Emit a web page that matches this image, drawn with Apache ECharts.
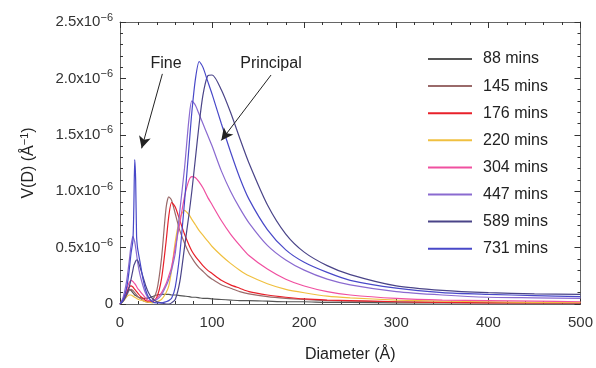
<!DOCTYPE html>
<html>
<head>
<meta charset="utf-8">
<script src="https://cdn.jsdelivr.net/npm/echarts@6/dist/echarts.min.js"></script>
<style>html,body{margin:0;padding:0;background:#fff;}#c{width:596px;height:368px;}</style>
</head>
<body>
<div id="c"></div>
<script>
// Diameter grid (Å) shared by all series
var diameters = [0,3,6,8,10,12,14,15,16,17,18,19,20,22,25,28,31,35,40,45,50,53,56,60,65,70,75,78,82,86,90,95,100,110,120,130,140,160,180,200,225,250,300,350,400,450,500];
// V(D) values in units of 1e-6 Å^-1
var v88  = [0,0.03,0.08,0.11,0.13,0.12,0.10,0.09,0.08,0.075,0.07,0.065,0.06,0.055,0.05,0.05,0.055,0.065,0.08,0.085,0.085,0.085,0.08,0.08,0.075,0.07,0.065,0.06,0.06,0.055,0.05,0.05,0.045,0.04,0.035,0.03,0.03,0.025,0.02,0.02,0.015,0.015,0.01,0.01,0.01,0.01,0.01];
var v145 = [0,0.02,0.06,0.09,0.12,0.13,0.12,0.11,0.10,0.09,0.08,0.07,0.06,0.05,0.03,0.02,0.015,0.03,0.12,0.40,0.85,0.95,0.92,0.80,0.65,0.54,0.45,0.41,0.36,0.32,0.29,0.25,0.22,0.17,0.14,0.11,0.09,0.065,0.05,0.04,0.03,0.025,0.02,0.015,0.015,0.01,0.01];
var v176 = [0,0.03,0.08,0.12,0.15,0.16,0.15,0.14,0.13,0.12,0.11,0.10,0.09,0.07,0.05,0.03,0.02,0.02,0.06,0.22,0.55,0.78,0.90,0.86,0.74,0.62,0.52,0.47,0.42,0.38,0.34,0.30,0.27,0.21,0.17,0.14,0.11,0.08,0.06,0.045,0.035,0.03,0.02,0.015,0.01,0.01,0.01];
var v220 = [0,0.02,0.05,0.07,0.08,0.08,0.07,0.065,0.06,0.055,0.05,0.045,0.04,0.035,0.03,0.02,0.015,0.01,0.02,0.04,0.10,0.16,0.30,0.55,0.76,0.83,0.79,0.75,0.70,0.65,0.61,0.56,0.51,0.43,0.36,0.30,0.25,0.18,0.13,0.10,0.07,0.055,0.035,0.025,0.02,0.015,0.015];
var v304 = [0,0.04,0.10,0.15,0.19,0.21,0.20,0.19,0.18,0.17,0.155,0.14,0.13,0.11,0.08,0.05,0.03,0.03,0.05,0.10,0.18,0.25,0.33,0.50,0.72,0.95,1.10,1.13,1.12,1.08,1.03,0.95,0.88,0.74,0.62,0.52,0.43,0.31,0.22,0.16,0.11,0.08,0.05,0.035,0.03,0.025,0.02];
var v447 = [0,0.05,0.15,0.25,0.38,0.52,0.60,0.58,0.55,0.50,0.44,0.38,0.33,0.25,0.16,0.09,0.05,0.03,0.04,0.08,0.16,0.22,0.30,0.45,0.83,1.20,1.65,1.80,1.76,1.68,1.60,1.50,1.40,1.18,1.00,0.85,0.72,0.52,0.39,0.30,0.22,0.17,0.11,0.08,0.06,0.055,0.05];
var v589 = [0,0.02,0.06,0.10,0.15,0.22,0.30,0.34,0.36,0.38,0.39,0.39,0.37,0.32,0.24,0.16,0.10,0.05,0.02,0.01,0,0,0.01,0.04,0.20,0.50,0.80,1.00,1.30,1.60,1.85,2.02,2.03,1.90,1.70,1.47,1.25,0.88,0.62,0.46,0.34,0.26,0.16,0.12,0.10,0.09,0.085];
var v731 = [0,0.03,0.10,0.18,0.30,0.45,0.56,0.85,1.28,1.10,0.60,0.50,0.45,0.36,0.22,0.12,0.06,0.02,0.01,0.01,0.02,0.03,0.05,0.15,0.45,0.90,1.40,1.70,2.00,2.15,2.10,1.98,1.86,1.60,1.35,1.12,0.93,0.66,0.48,0.37,0.28,0.21,0.14,0.10,0.085,0.075,0.065];

var seriesNames = ['88 mins','145 mins','176 mins','220 mins','304 mins','447 mins','589 mins','731 mins'];
var seriesValues = [v88,v145,v176,v220,v304,v447,v589,v731];
var seriesColors = ['#555555','#9a6a6a','#e8202a','#f0c040','#f050a0','#8a6ad0','#4a4488','#4848c8'];

var chart = echarts.init(document.getElementById('c'), null, {renderer:'canvas'});
var font = 'Liberation Sans, Arial, sans-serif';
var axisCol = '#666';

var series = seriesNames.map(function(n,i){
  return {
    name:n, type:'line', xAxisIndex:0, yAxisIndex:0,
    data: diameters.map(function(d,j){return [d, seriesValues[i][j]];}),
    showSymbol:false, symbol:'none', smooth:0.25,
    lineStyle:{width:1.2,color:seriesColors[i]},
    itemStyle:{color:seriesColors[i]},
    animation:false
  };
});
// annotation arrows (data coordinates)
series.push({
  type:'line', data:[], xAxisIndex:0, yAxisIndex:0, animation:false,
  markLine:{
    silent:true, animation:false, label:{show:false},
    symbolSize:[9,12],
    lineStyle:{color:'#222',width:1,type:'solid'},
    data:[
      [{coord:[46,2.04],symbol:'none'},{coord:[23.5,1.38],symbol:'arrow'}],
      [{coord:[164,2.03],symbol:'none'},{coord:[110,1.45],symbol:'arrow'}]
    ]
  }
});

var yLabelFmt = function(v){
  if (Math.abs(v) < 1e-9) return '0';
  return '{a|' + v.toFixed(1) + 'x10}{b|−6}';
};
var tickStyle = {show:true,inside:true,length:6,lineStyle:{color:'#333'}};
var minorStyle = {show:true,splitNumber:5,length:3,lineStyle:{color:'#333'}};
var lineStyleAx = {show:true,onZero:false,lineStyle:{color:axisCol,width:1}};

var option = {
  backgroundColor:'#fff',
  animation:false,
  grid:{left:120,right:12,top:22,bottom:53,containLabel:false},
  legend:{
    orient:'vertical', left:423, top:46,
    itemWidth:44, itemHeight:2, itemGap:11.1, icon:'rect',
    textStyle:{fontFamily:font,fontSize:16,color:'#222',padding:[0,0,0,6]},
    data:seriesNames
  },
  xAxis:[{
    type:'value', min:0, max:500, interval:100, position:'bottom',
    name:'Diameter (Å)', nameLocation:'middle', nameGap:43,
    nameTextStyle:{fontFamily:font,fontSize:16,color:'#222'},
    axisLine:lineStyleAx, axisTick:tickStyle, minorTick:minorStyle,
    axisLabel:{fontFamily:font,fontSize:15,color:'#333',margin:11},
    splitLine:{show:false}
  },{
    type:'value', min:0, max:500, interval:100, position:'top',
    axisLine:lineStyleAx, axisTick:tickStyle, minorTick:minorStyle,
    axisLabel:{show:false}, splitLine:{show:false}
  }],
  yAxis:[{
    type:'value', min:0, max:2.5, interval:0.5, position:'left',
    name:'V(D) (Å{s|−1})', nameLocation:'middle', nameGap:82, nameRotate:90,
    nameTextStyle:{fontFamily:font,fontSize:16,color:'#222',
      rich:{s:{fontFamily:font,fontSize:11,color:'#222',padding:[0,0,8,0]}}},
    axisLine:lineStyleAx, axisTick:tickStyle, minorTick:minorStyle,
    axisLabel:{fontFamily:font,fontSize:15,color:'#333',margin:7,formatter:yLabelFmt,
      rich:{a:{fontFamily:font,fontSize:15,color:'#333'},
            b:{fontFamily:font,fontSize:11,color:'#333',padding:[0,0,9,0]}}},
    splitLine:{show:false}
  },{
    type:'value', min:0, max:2.5, interval:0.5, position:'right',
    axisLine:lineStyleAx, axisTick:tickStyle, minorTick:minorStyle,
    axisLabel:{show:false}, splitLine:{show:false}
  }],
  series:series
};
chart.setOption(option);

// annotation texts placed in data coordinates
var pF = chart.convertToPixel({xAxisIndex:0,yAxisIndex:0},[50,2.13]);
var pP = chart.convertToPixel({xAxisIndex:0,yAxisIndex:0},[164,2.13]);
chart.setOption({graphic:[
  {type:'text',x:pF[0],y:pF[1],style:{text:'Fine',fontFamily:font,fontSize:16,fill:'#222',textAlign:'center',textVerticalAlign:'middle'}},
  {type:'text',x:pP[0],y:pP[1],style:{text:'Principal',fontFamily:font,fontSize:16,fill:'#222',textAlign:'center',textVerticalAlign:'middle'}}
]});
</script>
</body>
</html>
